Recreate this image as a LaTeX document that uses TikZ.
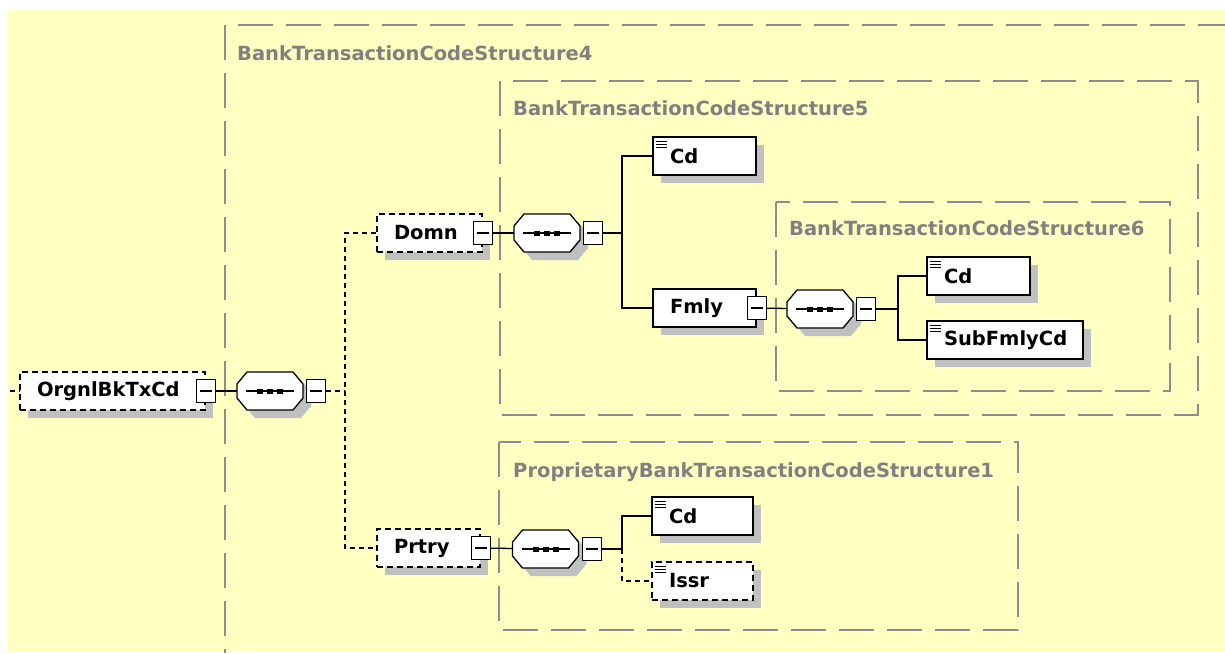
\documentclass[tikz,border=0pt]{standalone}
\usepackage{fontspec}
\setmainfont{DejaVu Sans}
\usetikzlibrary{positioning, shadows}

\definecolor{canvasyellow}{RGB}{255,255,194}
\definecolor{groupgray}{RGB}{140,140,140}
\definecolor{labelgray}{RGB}{128,128,128}
\definecolor{shadowgray}{RGB}{192,192,192}

\begin{document}
\begin{tikzpicture}[x=1pt, y=-1pt,
  every node/.style={font=\fontsize{19.5}{22}\selectfont\bfseries},
  boxshadow/.style={drop shadow={shadow xshift=8pt, shadow yshift=-8pt, fill=shadowgray, opacity=1}},
  elem/.style={draw, fill=white, line width=1.3pt, minimum height=38pt,
               text width=#1, inner xsep=17pt, inner ysep=0pt, align=left, boxshadow},
  optelem/.style={elem=#1, dash pattern=on 6pt off 4pt},
  simple/.style={path picture={
      \foreach \dy in {4,7,10}
        \draw[solid, line width=1pt] ([xshift=3pt, yshift=-\dy pt]path picture bounding box.north west) -- ++(11pt,0);}},
  minusbox/.style={draw, solid, fill=white, line width=1.3pt, minimum width=19pt,
                   minimum height=23pt, inner sep=0pt,
                   path picture={\draw[line width=1.2pt] ([xshift=-6pt]path picture bounding box.center)
                                   -- ([xshift=6pt]path picture bounding box.center);}},
  seq/.style={minimum width=66pt, minimum height=38pt, inner sep=0pt, outer sep=0pt},
  seqframe/.style={draw, fill=white, line width=1.3pt, boxshadow},
  groupframe/.style={draw=groupgray, line width=1.6pt, dash pattern=on 35pt off 13pt},
  grouplabel/.style={anchor=base west, text=labelgray, inner sep=0pt},
  conn/.style={line width=1.3pt},
  optconn/.style={line width=1.3pt, dash pattern=on 5pt off 4pt}
]
  \useasboundingbox (0,0) rectangle (1225,653);
  \fill[canvasyellow] (8,10) rectangle (1225,652);
  \clip (8,10) rectangle (1225,652);

  % groups
  \draw[groupframe] (225,25) rectangle (1250,680);
  \draw[groupframe] (500,81) rectangle (1198,415);
  \draw[groupframe] (776,202) rectangle (1170,391);
  \draw[groupframe] (499,442) rectangle (1018,630);
  \node[grouplabel] (g4-label) at (237,60) {BankTransactionCodeStructure4};
  \node[grouplabel] (g5-label) at (513,115) {BankTransactionCodeStructure5};
  \node[grouplabel] (g6-label) at (789,235) {BankTransactionCodeStructure6};
  \node[grouplabel] (p1-label) at (513,477) {ProprietaryBankTransactionCodeStructure1};

  % elements
  \node[optelem=151] (orgnl) at (112.5,391) {OrgnlBkTxCd};
  \node[seq] (seq1) at (270,391) {};
  \node[optelem=71] (domn) at (429.5,233) {Domn};
  \node[seq] (seq2) at (547,233) {};
  \node[elem=69, simple] (cd1) at (704.5,156) {Cd};
  \node[elem=69] (fmly) at (704.5,308) {Fmly};
  \node[seq] (seq3) at (820,309) {};
  \node[elem=69, simple] (cd2) at (978.5,276) {Cd};
  \node[elem=122, simple] (subfmly) at (1005,340) {SubFmlyCd};
  \node[optelem=69] (prtry) at (428.5,548) {Prtry};
  \node[seq] (seq4) at (545.5,549) {};
  \node[elem=67, simple] (cd3) at (702.5,516) {Cd};
  \node[optelem=67, simple] (issr) at (702.5,581) {Issr};

  % sequence compositors
  \foreach \s in {seq1,seq2,seq3,seq4} {
    \draw[seqframe] ([xshift=10pt]\s.north west) -- ([xshift=-10pt]\s.north east)
      -- ([yshift=-12pt]\s.north east) -- ([yshift=12pt]\s.south east)
      -- ([xshift=-10pt]\s.south east) -- ([xshift=10pt]\s.south west)
      -- ([yshift=12pt]\s.south west) -- ([yshift=-12pt]\s.north west) -- cycle;
    \draw[line width=1.2pt] ([xshift=-24pt]\s.center) -- ([xshift=24pt]\s.center);
    \draw[line width=5pt, dash pattern=on 6pt off 4pt] ([xshift=-13pt]\s.center) -- ([xshift=13pt]\s.center);
  }

  % expand boxes
  \node[minusbox] (orgnl-m) at (orgnl.east) {};
  \node[minusbox, right=3pt of seq1] (seq1-m) {};
  \node[minusbox] (domn-m) at (domn.east) {};
  \node[minusbox, right=3pt of seq2] (seq2-m) {};
  \node[minusbox] (fmly-m) at (fmly.east) {};
  \node[minusbox, right=3pt of seq3] (seq3-m) {};
  \node[minusbox] (prtry-m) at (prtry.east) {};
  \node[minusbox, right=3pt of seq4] (seq4-m) {};

  % connectors
  \coordinate (lead) at (10,391);
  \coordinate (bus1) at (345,391);
  \coordinate (bus2) at (622,233);
  \coordinate (bus3) at (898,309);
  \coordinate (bus4) at (622,549);
  \draw[optconn] (lead) -- (orgnl);
  \draw[conn] (orgnl-m) -- (seq1);
  \draw[optconn] (seq1-m) -- (bus1);
  \draw[optconn] (domn.west) -| (bus1) |- (prtry.west);
  \draw[conn] (domn-m) -- (seq2);
  \draw[conn] (seq2-m) -- (bus2);
  \draw[conn] (cd1.west) -| (bus2) |- (fmly.west);
  \draw[conn] (fmly-m) -- (seq3);
  \draw[conn] (seq3-m) -- (bus3);
  \draw[conn] (cd2.west) -| (bus3) |- (subfmly.west);
  \draw[conn] (prtry-m) -- (seq4);
  \draw[conn] (seq4-m) -- (bus4) |- (cd3.west);
  \draw[optconn] (bus4) |- (issr.west);
\end{tikzpicture}
\end{document}
